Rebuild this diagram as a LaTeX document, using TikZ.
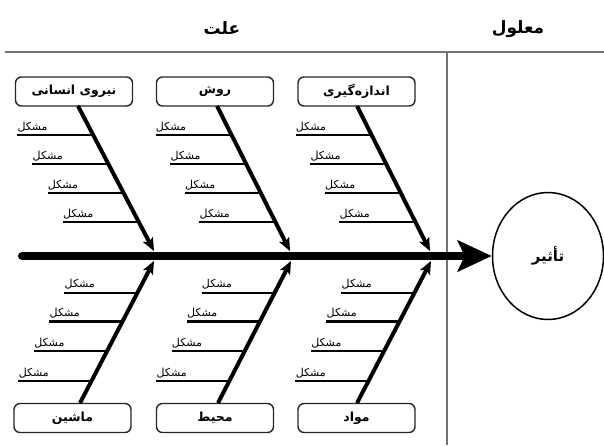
\documentclass[tikz,border=0pt]{standalone}
\usepackage{fontspec}
\usetikzlibrary{arrows.meta,calc,shapes.geometric}
\TeXXeTstate=1
\newfontfamily\fafont[Script=Arabic]{DejaVu Sans}
\newcommand{\ftxt}[1]{{\fafont\beginR #1\endR}}
\begin{document}
\begin{tikzpicture}[x=1pt,y=-1pt,
  catbox/.style={draw=black!85,line width=1.4pt,rounded corners=6pt,minimum width=117pt,minimum height=29pt,inner sep=0pt,font=\fafont\bfseries\fontsize{12.5}{13}\selectfont},
  bone/.style={line width=4pt,-{Stealth[length=13pt,width=11pt,inset=3pt]}},
  sub/.style={line width=2.6pt},
  prob/.style={anchor=south west,inner sep=0pt,font=\fafont\fontsize{11}{12}\selectfont},
  head/.style={font=\fafont\bfseries\fontsize{17}{18}\selectfont,inner sep=0pt},
  sep/.style={draw=black!55,line width=1.6pt}]
\useasboundingbox (0,0) rectangle (604,445);
% header
\node[head] (cause) at (222,28) {\ftxt{علت}};
\node[head] (effect) at (518,29) {\ftxt{معلول}};
\coordinate (hl) at (5,52);
\coordinate (hr) at (604,52);
\coordinate (vt) at (447,52);
\coordinate (vb) at (447,445);
\draw[sep] (hl) -- (hr);
\draw[sep] (vt) -- (vb);
% effect
\node[ellipse,draw,line width=1.5pt,minimum width=111pt,minimum height=127pt,inner sep=0pt,font=\fafont\bfseries\fontsize{15}{16}\selectfont] (eff) at (548,256) {\ftxt{تأثیر}};
\coordinate (spine) at (22,256);
\draw[line width=8pt,line cap=round,-{Stealth[length=34pt,width=31pt,inset=7pt]}] (spine) -- (eff.west);
% top boxes
\node[catbox] (t1) at (74,91.5) {\ftxt{نیروی انسانی}};
\node[catbox] (t2) at (215,91.5) {\ftxt{روش}};
\node[catbox] (t3) at (356.5,91.5) {\ftxt{اندازه‌گیری}};
% bottom boxes
\node[catbox] (b1) at (72.5,418) {\ftxt{ماشین}};
\node[catbox] (b2) at (215,418) {\ftxt{محیط}};
\node[catbox] (b3) at (356.5,418) {\ftxt{مواد}};
% bone coordinates
\coordinate (t1s) at (78,106); \coordinate (t1e) at (154,251);
\coordinate (t2s) at (217,106); \coordinate (t2e) at (290,251);
\coordinate (t3s) at (357,106); \coordinate (t3e) at (430,251);
\coordinate (b1s) at (80,403); \coordinate (b1e) at (154,261);
\coordinate (b2s) at (218,403); \coordinate (b2e) at (291,261);
\coordinate (b3s) at (357,403); \coordinate (b3e) at (431,261);
\foreach \k in {t1,t2,t3}{
  \foreach \t in {0.2,0.4,0.6,0.8}{
    \draw[sub] ($(\k s)!\t!(\k e)$) -- ++(-76,0) node[prob,xshift=-1pt,yshift=2pt] {\ftxt{مشکل}};
  }
  \draw[bone] (\k s) -- (\k e);
}
\foreach \k in {b1,b2,b3}{
  \foreach \t in {0.155,0.365,0.573,0.776}{
    \draw[sub] ($(\k s)!\t!(\k e)$) -- ++(-73,0) node[prob,xshift=-1pt,yshift=2pt] {\ftxt{مشکل}};
  }
  \draw[bone] (\k s) -- (\k e);
}
\end{tikzpicture}
\end{document}
